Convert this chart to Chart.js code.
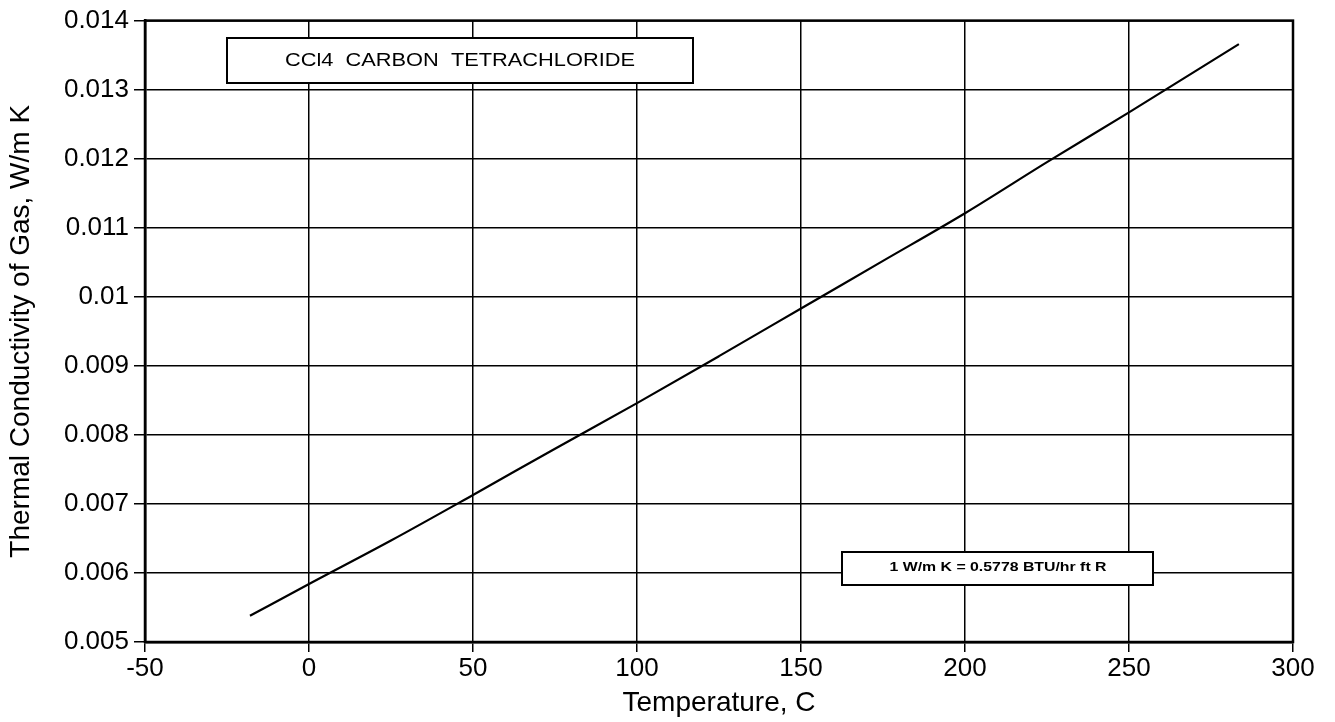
<!DOCTYPE html>
<html><head><meta charset="utf-8">
<script src="https://cdn.jsdelivr.net/npm/chart.js@4.4.1/dist/chart.umd.min.js"></script>
<style>html,body{margin:0;padding:0;background:#fff}#wrap{width:1335px;height:722px}</style>
</head><body><div id="wrap"><canvas id="c" width="1335" height="722"></canvas></div>
<script>
const temperatureC = [-18, 0, 25, 50, 75, 100, 125, 150, 175, 200, 225, 250, 283.5];
const conductivity = [0.00538, 0.00584, 0.00647, 0.00713, 0.00780, 0.00846, 0.00914, 0.00983, 0.01052, 0.01121, 0.01195, 0.01267, 0.01366];
const xTicks = [-50, 0, 50, 100, 150, 200, 250, 300];
const yTicks = [0.005, 0.006, 0.007, 0.008, 0.009, 0.01, 0.011, 0.012, 0.013, 0.014];
const titleText = "CCl4  CARBON  TETRACHLORIDE";
const noteText = "1 W/m K = 0.5778 BTU/hr ft R";
const xTitle = "Temperature, C";
const yTitle = "Thermal Conductivity of Gas, W/m K";

const FONT = "'Liberation Sans', Arial, Helvetica, sans-serif";

function stretchedText(ctx, text, cx, cy, targetW) {
  const w = ctx.measureText(text).width;
  const sx = targetW / w;
  ctx.save();
  ctx.translate(cx, cy);
  ctx.scale(sx, 1);
  ctx.fillText(text, 0, 0);
  ctx.restore();
}

const boxes = {
  id: 'boxes',
  afterDraw(chart) {
    const ctx = chart.ctx;
    ctx.save();
    ctx.fillStyle = '#fff'; ctx.strokeStyle = '#000'; ctx.lineWidth = 2;
    ctx.fillRect(227, 38, 466, 45); ctx.strokeRect(227, 38, 466, 45);
    ctx.fillStyle = '#000';
    ctx.font = "19px " + FONT; ctx.textAlign = 'center'; ctx.textBaseline = 'middle';
    stretchedText(ctx, titleText, 460, 61, 350);
    ctx.fillStyle = '#fff';
    ctx.fillRect(842, 552, 311, 33); ctx.strokeRect(842, 552, 311, 33);
    ctx.fillStyle = '#000';
    ctx.font = "bold 12px " + FONT;
    stretchedText(ctx, noteText, 998, 568, 217);
    ctx.restore();
  }
};

new Chart(document.getElementById('c'), {
  type: 'scatter',
  data: { datasets: [{
    data: temperatureC.map((t, i) => ({x: t, y: conductivity[i]})),
    showLine: true, borderColor: '#000', borderWidth: 2.2, pointRadius: 0,
    cubicInterpolationMode: 'monotone', fill: false
  }]},
  options: {
    responsive: false, animation: false,
    layout: { padding: { top: 20, right: 42, left: 0, bottom: 0 } },
    plugins: { legend: { display: false }, tooltip: { enabled: false } },
    scales: {
      x: {
        type: 'linear', min: -50, max: 300,
        afterBuildTicks(s) { s.ticks = xTicks.map(v => ({value: v})); },
        afterFit(s) { s.height = 80; },
        grid: { color: '#000', lineWidth: 1.5, tickLength: 10, drawTicks: true },
        border: { color: '#000', width: 2.5 },
        ticks: { color: '#000', font: { family: FONT, size: 26 }, padding: 1, maxRotation: 0 },
        title: { display: true, text: xTitle, color: '#000', font: { family: FONT, size: 28 }, padding: { top: 0, bottom: 2 } }
      },
      y: {
        type: 'linear', min: 0.005, max: 0.014,
        afterBuildTicks(s) { s.ticks = yTicks.map(v => ({value: v})); },
        afterFit(s) { s.width = 145; },
        grid: { color: '#000', lineWidth: 1.5, tickLength: 11, drawTicks: true },
        border: { color: '#000', width: 2.5 },
        ticks: { color: '#000', font: { family: FONT, size: 26 }, padding: 5, callback: v => String(+v.toFixed(3)) },
        title: { display: true, text: yTitle, color: '#000', font: { family: FONT, size: 28 }, padding: { top: 4, bottom: 4 } }
      }
    }
  },
  plugins: [boxes, {
    id: 'frame',
    afterDraw(chart) {
      const a = chart.chartArea, ctx = chart.ctx;
      ctx.save(); ctx.strokeStyle = '#000'; ctx.lineWidth = 2.5;
      ctx.strokeRect(a.left, a.top, a.right - a.left, a.bottom - a.top);
      ctx.restore();
    }
  }]
});
</script></body></html>
